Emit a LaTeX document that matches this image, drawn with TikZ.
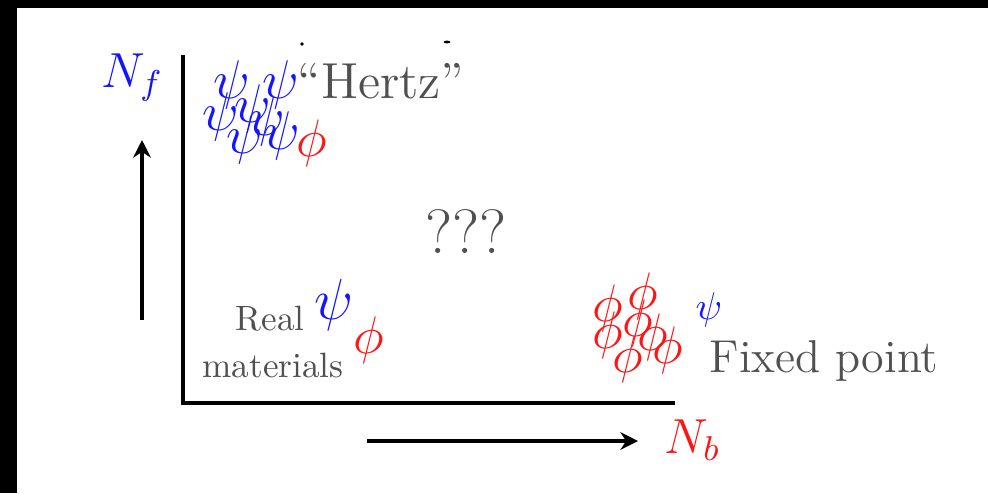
\RequirePackage{fix-cm}
\documentclass[tikz,border=0pt]{standalone}
\usepackage{tikz}
\usetikzlibrary{arrows.meta}
\usepackage{xcolor}
\definecolor{labelgray}{RGB}{80, 80, 80}
\definecolor{fermiblue}{RGB}{20, 20, 255}
\definecolor{bosered}{RGB}{255, 20, 20}

\begin{document}
\begin{tikzpicture}[x=0.01cm, y=-0.01cm, >={Stealth[length=5pt, width=5pt]},
  lbl/.style={inner sep=0pt, text=labelgray},
  fpsi/.style={inner sep=0pt, text=fermiblue, font=\fontsize{15.5}{18}\selectfont},
  bphi/.style={inner sep=0pt, text=bosered, font=\fontsize{15}{18}\selectfont}]

  % Frame
  \fill[black] (0,0) rectangle (988,493);
  \fill[white] (17,8) rectangle (988,493);

  % Cut-off marks at the top
  \fill[black] (302,44) circle (1.8);
  \fill[black] (447,42) ellipse (3.5 and 1.4);

  % Axes
  \coordinate (ytop) at (183,55);
  \coordinate (origin) at (183,403);
  \coordinate (xend) at (675,403);
  \draw[line width=1.15pt] (ytop) -- (origin) -- (xend);

  % Direction arrows
  \coordinate (fbot) at (142,320);
  \coordinate (ftop) at (142,140);
  \draw[->, line width=0.95pt] (fbot) -- (ftop);
  \coordinate (bleft) at (367,441);
  \coordinate (bright) at (638,441);
  \draw[->, line width=0.95pt] (bleft) -- (bright);

  % Axis labels
  \node[inner sep=0pt, text=fermiblue, font=\fontsize{14}{17}\selectfont, anchor=base west] (Nf) at (101,87) {$N_f$};
  \node[inner sep=0pt, text=bosered, font=\fontsize{14}{17}\selectfont, anchor=base west] (Nb) at (664,453) {$N_b$};

  % Middle
  \node[lbl, font=\fontsize{17.8}{21}\selectfont, anchor=base] (unknown) at (466,253) {???};

  % Hertz corner
  \node[fpsi] (hA) at (232,85) {$\psi$};
  \node[fpsi] (hB) at (281,85) {$\psi$};
  \node[fpsi] (hC) at (221,117) {$\psi$};
  \node[fpsi] (hD) at (253,109) {$\psi$};
  \node[fpsi] (hE) at (267,122) {$\psi$};
  \node[fpsi] (hF) at (245,140) {$\psi$};
  \node[fpsi] (hG) at (282,136) {$\psi$};
  \node[bphi] (hphi) at (312,143) {$\phi$};
  \node[lbl, font=\fontsize{14.4}{17}\selectfont, anchor=base west] (hertz) at (297,98) {“Hertz”};

  % Real materials
  \node[lbl, font=\fontsize{10}{12}\selectfont, anchor=base] (real) at (270,330) {Real};
  \node[lbl, font=\fontsize{10}{12}\selectfont, anchor=base] (materials) at (273,377) {materials};
  \node[fpsi, font=\fontsize{16.5}{19}\selectfont] (rpsi) at (334,305) {$\psi$};
  \node[bphi] (rphi) at (369,340) {$\phi$};

  % Fixed point
  \node[bphi] (fA) at (608,308) {$\phi$};
  \node[bphi] (fB) at (643,296) {$\phi$};
  \node[bphi] (fC) at (638,323) {$\phi$};
  \node[bphi] (fD) at (608,335) {$\phi$};
  \node[bphi] (fE) at (653,337) {$\phi$};
  \node[bphi] (fF) at (628,359) {$\phi$};
  \node[bphi] (fG) at (668,350) {$\phi$};
  \node[fpsi, font=\fontsize{11}{13}\selectfont] (fpsi) at (709,310) {$\psi$};
  \node[lbl, font=\fontsize{13.1}{15}\selectfont, anchor=base west] (fixed) at (709,372) {Fixed point};

\end{tikzpicture}
\end{document}
